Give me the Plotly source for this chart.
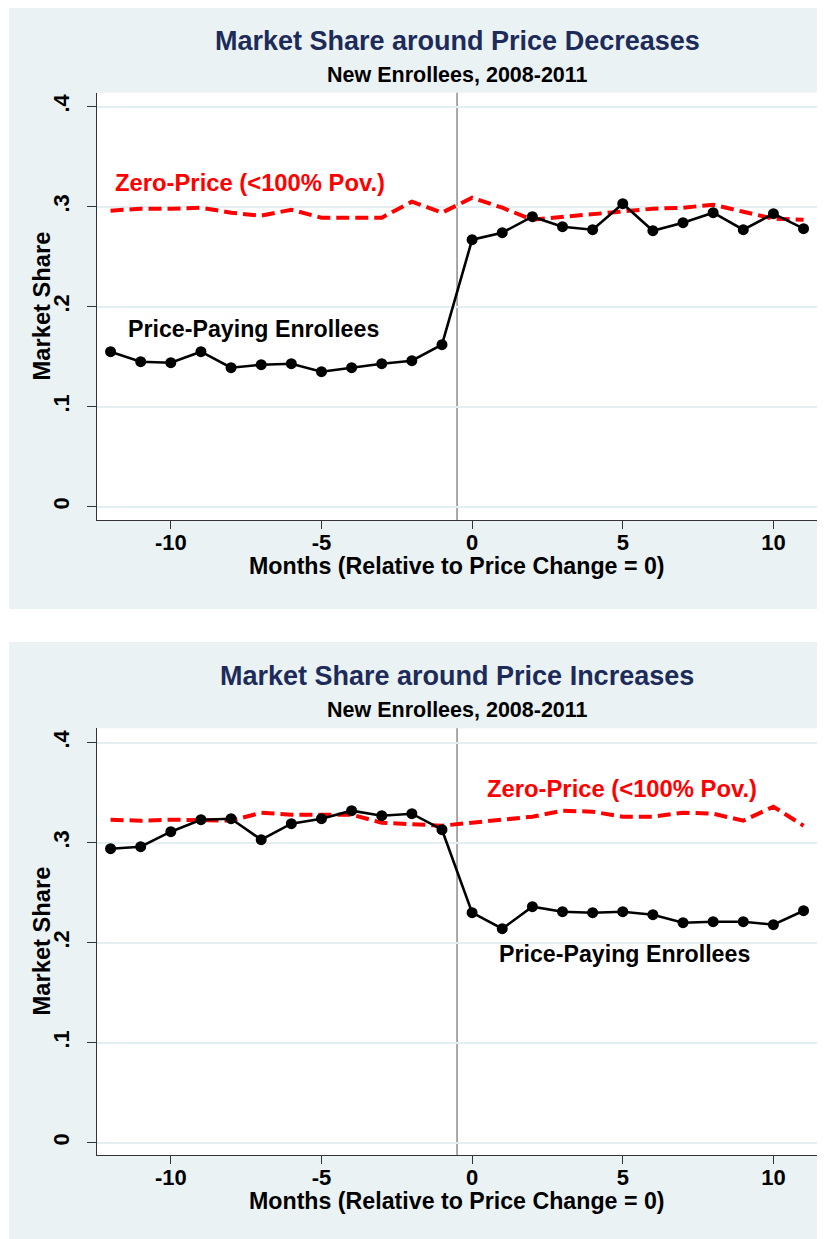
import plotly.graph_objects as go

months = list(range(-12, 12))

# price decreases (top panel)
dec_paying = [0.155, 0.145, 0.144, 0.155, 0.139, 0.142, 0.143, 0.135, 0.139, 0.143, 0.146, 0.162,
              0.267, 0.274, 0.290, 0.280, 0.277, 0.303, 0.276, 0.284, 0.294, 0.277, 0.293, 0.278]
dec_zero = [0.296, 0.298, 0.298, 0.299, 0.294, 0.291, 0.297, 0.289, 0.289, 0.289, 0.305, 0.294,
            0.309, 0.299, 0.287, 0.290, 0.293, 0.296, 0.298, 0.299, 0.302, 0.295, 0.288, 0.287]

# price increases (bottom panel)
inc_paying = [0.294, 0.296, 0.311, 0.323, 0.324, 0.303, 0.319, 0.324, 0.332, 0.327, 0.329, 0.313,
              0.230, 0.214, 0.236, 0.231, 0.230, 0.231, 0.228, 0.220, 0.221, 0.221, 0.218, 0.232]
inc_zero = [0.323, 0.322, 0.323, 0.323, 0.322, 0.330, 0.328, 0.328, 0.328, 0.320, 0.318, 0.317,
            0.320, 0.323, 0.326, 0.332, 0.331, 0.326, 0.326, 0.330, 0.329, 0.322, 0.336, 0.317]

x_ticks = [-10, -5, 0, 5, 10]
x_labels = ['-10', '-5', '0', '5', '10']
y_ticks = [0, 0.1, 0.2, 0.3, 0.4]
y_labels = ['0', '.1', '.2', '.3', '.4']

# the page body has an 8px margin, so the figure sits at (8, 8) in the window
OFF = 8
W, H = 825 - OFF, 1239 - OFF
FONT = 'Liberation Sans, Arial, sans-serif'
NAVY = '#1c2b5a'
PANEL_BG = '#eaf2f3'


def px(v):
    return (v - OFF) / W


def py(v):
    return 1 - (v - OFF) / H


def bold(s):
    return '<b>' + s + '</b>'


panels = [
    dict(title='Market Share around Price Decreases', paying=dec_paying, zero=dec_zero, top=8, bottom=609,
         plot_top=92.7, plot_bottom=520, yrange=[-0.0133, 0.414],
         zero_lbl=(-11.92, 0.324), pay_lbl=(-11.48, 0.178)),
    dict(title='Market Share around Price Increases', paying=inc_paying, zero=inc_zero, top=642, bottom=1239,
         plot_top=728.3, plot_bottom=1155, yrange=[-0.0123, 0.4144],
         zero_lbl=(0.43, 0.354), pay_lbl=(0.83, 0.189)),
]

fig = go.Figure()
shapes = []
annotations = []
x_dom = [px(96.7), px(817.7)]

for i, p in enumerate(panels):
    n = '' if i == 0 else str(i + 1)
    xa, ya = 'x' + n, 'y' + n
    off = 0 if i == 0 else 635

    fig.add_trace(go.Scatter(x=months, y=p['zero'], mode='lines', xaxis=xa, yaxis=ya,
                             line=dict(color='#ff0000', width=4, dash='13px,6px')))
    fig.add_trace(go.Scatter(x=months, y=p['paying'], mode='lines+markers', xaxis=xa, yaxis=ya,
                             line=dict(color='black', width=2.6), marker=dict(color='black', size=11)))

    fig.layout['xaxis' + n] = dict(
        domain=x_dom, range=[-12.46, 11.47], anchor=ya, tickvals=x_ticks, ticktext=[bold(t) for t in x_labels],
        ticks='outside', ticklen=8, tickcolor='#333', showline=True, linecolor='#333', linewidth=1.2,
        showgrid=False, zeroline=False, tickfont=dict(size=22, color='black'), ticklabelstandoff=-6)
    fig.layout['yaxis' + n] = dict(
        domain=[py(p['plot_bottom']), py(p['plot_top'])], range=p['yrange'], anchor=xa,
        tickvals=y_ticks, ticktext=[bold(t) for t in y_labels], tickangle=-90, ticks='outside', ticklen=9,
        tickcolor='#333', showline=True, linecolor='#333', linewidth=1.2, showgrid=True, gridcolor='#e4eef0',
        gridwidth=1.5, zeroline=False, tickfont=dict(size=22, color='black'), ticklabelstandoff=9)

    shapes.append(dict(type='rect', xref='paper', yref='paper', x0=px(9), x1=1,
                       y0=py(p['bottom']), y1=py(p['top']), fillcolor=PANEL_BG, line_width=0, layer='below'))
    shapes.append(dict(type='rect', xref='paper', yref='paper', x0=x_dom[0], x1=x_dom[1],
                       y0=py(p['plot_bottom']), y1=py(p['plot_top']), fillcolor='white', line_width=0,
                       layer='below'))
    shapes.append(dict(type='line', xref=xa, yref=ya + ' domain', x0=-0.5, x1=-0.5, y0=0, y1=1,
                       line=dict(color='#7a7a7a', width=1.3), layer='below'))

    cx = (x_dom[0] + x_dom[1]) / 2
    annotations += [
        dict(text=bold(p['title']), x=cx, y=py(40.9 + off), xref='paper', yref='paper', showarrow=False,
             font=dict(size=27, color=NAVY), yanchor='middle'),
        dict(text=bold('New Enrollees, 2008-2011'), x=cx, y=py(75 + off), xref='paper', yref='paper',
             showarrow=False, font=dict(size=21.5, color='black'), yanchor='middle'),
        dict(text=bold('Months (Relative to Price Change = 0)'), x=cx, y=py(566 + off), xref='paper',
             yref='paper', showarrow=False, font=dict(size=23.2, color='black'), yanchor='middle'),
        dict(text=bold('Market Share'), x=px(42), y=py(306.4 + off), xref='paper', yref='paper',
             showarrow=False, textangle=-90, font=dict(size=23.7, color='black'), xanchor='center',
             yanchor='middle'),
        dict(text=bold('Zero-Price (<100% Pov.)'), x=p['zero_lbl'][0], y=p['zero_lbl'][1], xref=xa, yref=ya,
             showarrow=False, xanchor='left', yanchor='middle', font=dict(size=23.8, color='#ff0000')),
        dict(text=bold('Price-Paying Enrollees'), x=p['pay_lbl'][0], y=p['pay_lbl'][1], xref=xa, yref=ya,
             showarrow=False, xanchor='left', yanchor='middle', font=dict(size=23.2, color='black')),
    ]

fig.update_layout(
    width=W, height=H, autosize=False, margin=dict(l=0, r=0, t=0, b=0),
    paper_bgcolor='white', plot_bgcolor='rgba(0,0,0,0)', showlegend=False,
    font=dict(family=FONT, color='black'), shapes=shapes, annotations=annotations,
)

fig.write_html('out.html')
